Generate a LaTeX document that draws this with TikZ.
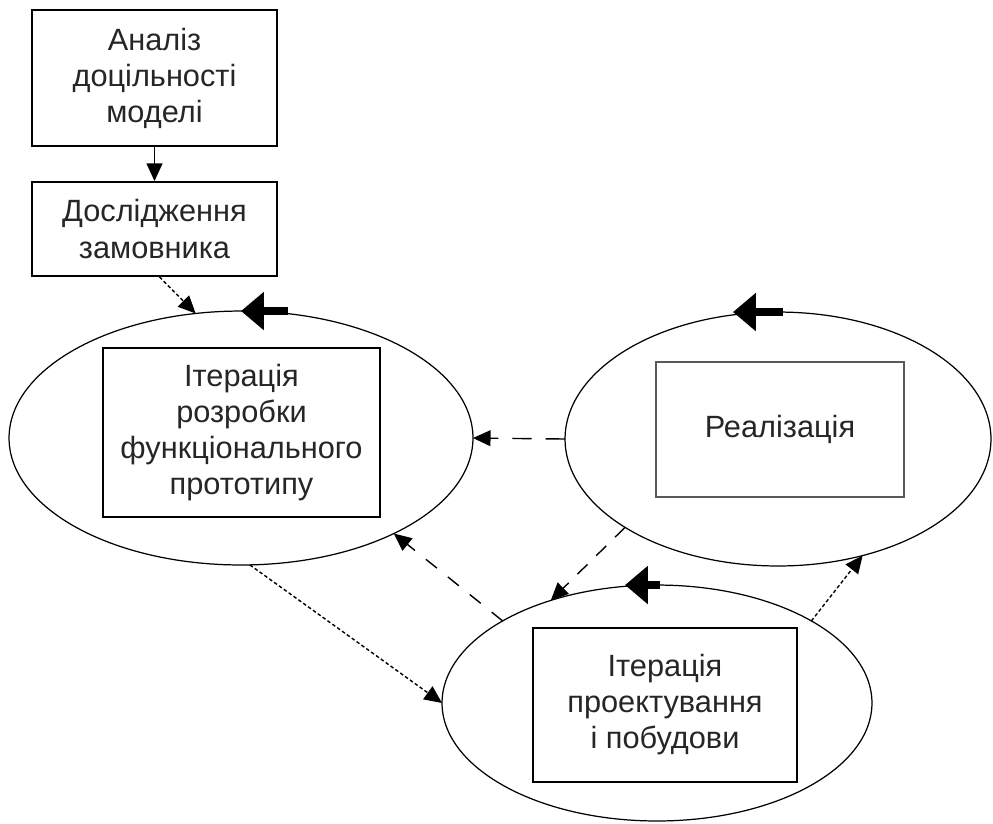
\documentclass[tikz,border=0pt]{standalone}
\usepackage{fontspec}
\setmainfont{Liberation Sans}
\usetikzlibrary{arrows.meta,shapes.geometric}

\begin{document}
\begin{tikzpicture}[
        x=0.02cm, y=-0.02cm,
        % Bloques rectangulares con el texto de cada etapa
        bloque/.style={draw, line width=1.1pt, align=center, inner sep=0pt, text=black!85, font=\fontsize{17.5}{20.5}\selectfont},
        % Elipses de las iteraciones
        ciclo/.style={ellipse, draw, line width=0.7pt, inner sep=0pt, outer sep=0pt},
        % Flechas finas entre etapas
        flecha/.style={-{Triangle[length=10pt,width=9pt]}, line width=0.8pt},
        punteado/.style={dash pattern=on 2pt off 1.4pt},
        % Flecha gruesa sobre cada elipse
        giro/.style={-{Triangle[length=13pt,width=21pt]}, line width=4.5pt}
    ]
        \useasboundingbox (0,0) rectangle (993,823);

        % Etapas iniciales
        \node[bloque, minimum width=4.9cm, minimum height=2.72cm] (analisis) at (154.5,78) {Аналіз\\доцільності\\моделі};
        \node[bloque, minimum width=4.9cm, minimum height=1.88cm] (cliente) at (154.5,229) {Дослідження\\замовника};

        % Elipses de las iteraciones
        \node[ciclo, minimum width=9.28cm, minimum height=5.08cm] (e1) at (241,438) {};
        \node[ciclo, minimum width=8.52cm, minimum height=5.08cm] (e2) at (778,439) {};
        \node[ciclo, minimum width=8.6cm, minimum height=4.72cm] (e3) at (657,703) {};

        % Bloques dentro de las elipses
        \node[bloque, minimum width=5.54cm, minimum height=3.38cm] (prototipo) at (241.5,432.5) {Ітерація\\розробки\\функціонального\\прототипу};
        \node[bloque, draw=black!65, line width=1.6pt, minimum width=4.96cm, minimum height=2.7cm] (realizacion) at (780,429.5) {Реалізація};
        \node[bloque, minimum width=5.28cm, minimum height=3.08cm] (diseno) at (665,705) {Ітерація\\проектування\\і побудови};

        % Flechas gruesas del ciclo
        \draw[giro] ([xshift=0.94cm]e1.north) -- (e1.north);
        \draw[giro] ([xshift=0.1cm]e2.north) -- ([xshift=-0.9cm]e2.north);
        \draw[giro] ([xshift=0.06cm]e3.north) -- ([xshift=-0.64cm]e3.north);

        % Conexiones entre etapas
        \draw[flecha] (analisis.south) -- (cliente.north);
        \draw[flecha, punteado] ([xshift=0.1cm]cliente.south) -- (e1.110);
        \draw[flecha, dash pattern=on 11pt off 8pt] (e2.west) -- (e1.east);
        \draw[flecha, dash pattern=on 8pt off 8pt] (e3.152) -- (e1.-32);
        \draw[flecha, dash pattern=on 8pt off 7pt] (e2.-150) -- (e3.136);
        \draw[flecha, punteado] (e1.-86) -- (e3.west);
        \draw[flecha, punteado] (e3.28) -- (e2.-54);

    \end{tikzpicture}
\end{document}
